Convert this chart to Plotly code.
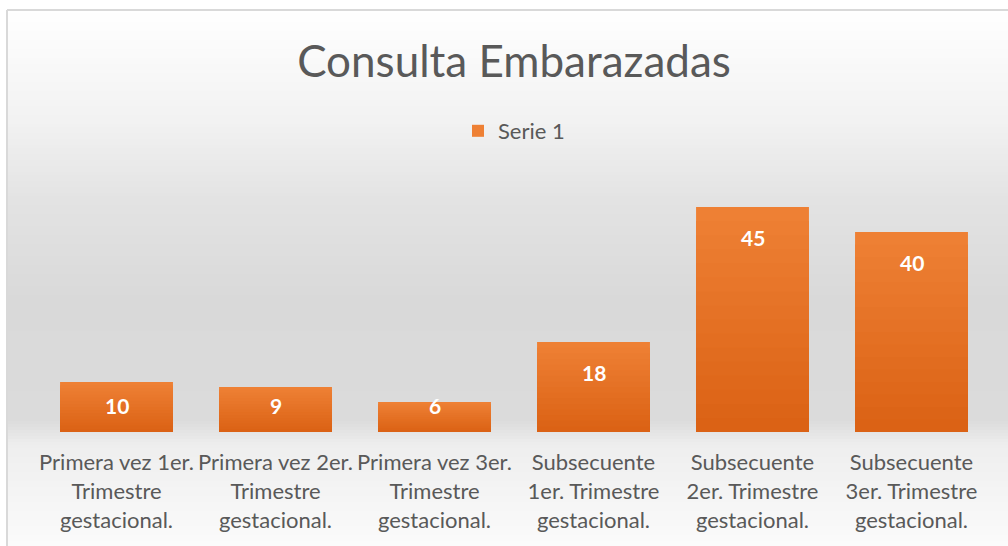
import numpy as np
import plotly.graph_objects as go

# ---- data ----
categories = [
    "Primera vez 1er.<br>Trimestre<br>gestacional.",
    "Primera vez 2er.<br>Trimestre<br>gestacional.",
    "Primera vez 3er.<br>Trimestre<br>gestacional.",
    "Subsecuente<br>1er. Trimestre<br>gestacional.",
    "Subsecuente<br>2er. Trimestre<br>gestacional.",
    "Subsecuente<br>3er. Trimestre<br>gestacional.",
]
values = [10, 9, 6, 18, 45, 40]
series_name = "Serie 1"
title_text = "Consulta Embarazadas"

# ---- layout geometry (pixels) ----
W, H = 1008, 546
ml, mr, mt, mb = 37, 16.5, 182, 114
plot_h = H - mt - mb
plot_w = W - ml - mr


def py2paper(py):
    return (H - mb - py) / plot_h


def px2paper(px):
    return (px - ml) / plot_w


FONT = "Lato, 'Open Sans', sans-serif"
TXT = "#595959"

# ---- bars with vertical gradient (overlayed layers) ----
top_c = np.array([238, 128, 52])
bot_c = np.array([219, 98, 21])
N = 16
fig = go.Figure()
for k in range(N):
    t = k / (N - 1)
    c = (top_c * (1 - t) + bot_c * t).round().astype(int)
    fig.add_trace(go.Bar(
        x=categories,
        y=[v * (N - k) / N for v in values],
        name=series_name,
        showlegend=(k == 0),
        marker=dict(color=f"rgb({c[0]},{c[1]},{c[2]})", line=dict(width=0)),
        opacity=1,
        hoverinfo="x+y" if k == 0 else "skip",
    ))

# ---- data labels ----
for cat, v in zip(categories, values):
    fig.add_annotation(
        x=cat, y=max(v, 11.3), yshift=-30, text=f"<b>{v}</b>",
        showarrow=False, font=dict(family=FONT, size=21, color="white"),
        xanchor="center", yanchor="middle",
    )

# ---- background gradient strips ----
anchors_py = [10, 120, 200, 300, 420, 432, 445, 546]
anchors_g = [255, 242, 227, 217, 219, 228, 238, 251]
shapes = []
x_left = px2paper(7)
x_right = px2paper(1015)
step = 3
for py in range(10, 546, step):
    g = int(round(np.interp(py + step / 2, anchors_py, anchors_g)))
    shapes.append(dict(
        type="rect", xref="paper", yref="paper", layer="below",
        x0=x_left, x1=x_right, y0=py2paper(py + step + 0.6), y1=py2paper(py),
        fillcolor=f"rgb({g},{g},{g})", line=dict(width=0),
    ))
# border
shapes.append(dict(type="line", xref="paper", yref="paper", layer="above",
                   x0=x_left, x1=x_left, y0=py2paper(560), y1=py2paper(10),
                   line=dict(color="#d9d9d9", width=2)))
shapes.append(dict(type="line", xref="paper", yref="paper", layer="above",
                   x0=x_left, x1=x_right, y0=py2paper(10), y1=py2paper(10),
                   line=dict(color="#d9d9d9", width=2)))

fig.update_layout(
    width=W, height=H,
    margin=dict(l=ml, r=mr, t=mt, b=mb, pad=0),
    paper_bgcolor="white",
    plot_bgcolor="rgba(0,0,0,0)",
    barmode="overlay",
    bargap=0.29,
    shapes=shapes,
    title=dict(text=title_text, x=0.5, xanchor="center", xref="paper",
               y=1 - 62 / H, yanchor="middle",
               font=dict(family=FONT, size=44, color=TXT)),
    legend=dict(orientation="h", x=0.5, xanchor="center", y=py2paper(131),
                yanchor="middle", font=dict(family=FONT, size=22, color=TXT),
                bgcolor="rgba(0,0,0,0)", itemwidth=30),
    showlegend=True,
    xaxis=dict(showgrid=False, showline=False, zeroline=False,
               ticks="outside", ticklen=11, tickcolor="rgba(0,0,0,0)",
               tickfont=dict(family=FONT, size=22, color=TXT)),
    yaxis=dict(range=[0, 50], showgrid=False, showline=False, zeroline=False,
               showticklabels=False, ticks=""),
)

fig.write_html("out.html",
               config={"displayModeBar": False},
               post_script="document.body.style.margin='0px';"
                           "document.body.style.padding='0px';")
